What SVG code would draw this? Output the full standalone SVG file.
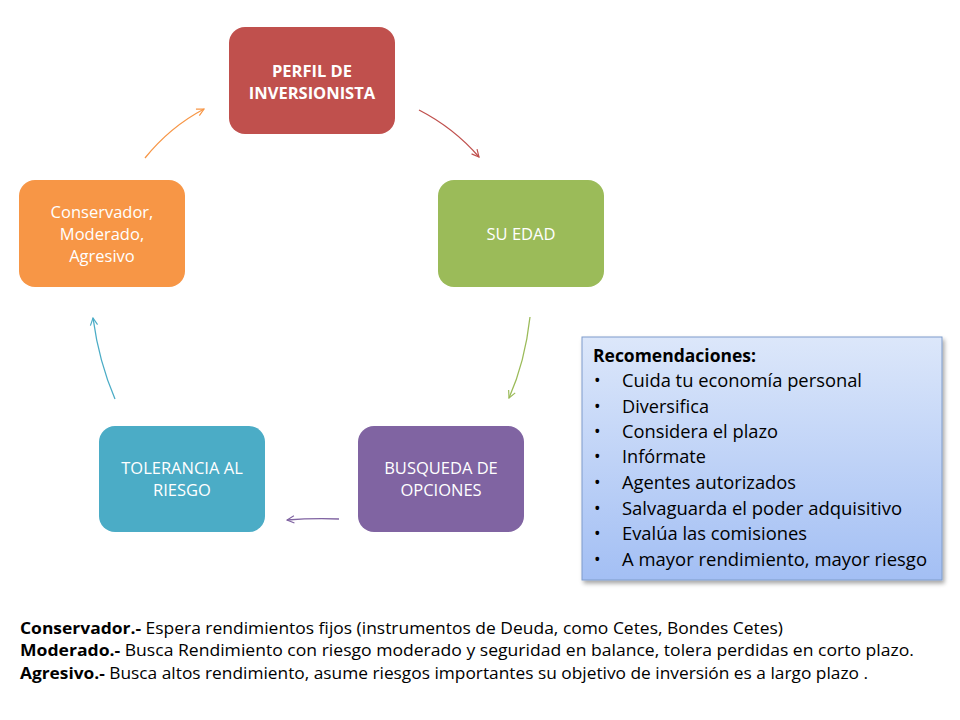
<svg xmlns="http://www.w3.org/2000/svg" width="960" height="720" viewBox="0 0 960 720">
<style>
.node text{font-family:"Open Sans","Liberation Sans",sans-serif;font-size:16.5px;fill:#fff;text-anchor:middle}
.b{font-weight:bold}
.conn path{fill:none;stroke-width:1.3}
.rec{font-family:"Open Sans","Liberation Sans",sans-serif;font-size:17.5px;fill:#000}
.foot{font-family:"Open Sans","Liberation Sans",sans-serif;font-size:15.5px;fill:#000}
</style>
<defs>
<linearGradient id="g" x1="0" y1="0" x2="0" y2="1">
<stop offset="0" stop-color="#DCE7FA"/>
<stop offset="1" stop-color="#A3BFF4"/>
</linearGradient>
<filter id="sh" x="-10%" y="-10%" width="120%" height="120%">
<feDropShadow dx="2" dy="3" stdDeviation="2" flood-color="#000" flood-opacity="0.35"/>
</filter>
<marker id="mo" viewBox="0 0 10 10" refX="9" refY="5" markerWidth="9" markerHeight="9" orient="auto" markerUnits="userSpaceOnUse"><path d="M1,1 L9,5 L1,9" fill="none" stroke="#F79646" stroke-width="1.3"/></marker>
<marker id="mr" viewBox="0 0 10 10" refX="9" refY="5" markerWidth="9" markerHeight="9" orient="auto" markerUnits="userSpaceOnUse"><path d="M1,1 L9,5 L1,9" fill="none" stroke="#C0504D" stroke-width="1.3"/></marker>
<marker id="mg" viewBox="0 0 10 10" refX="9" refY="5" markerWidth="9" markerHeight="9" orient="auto" markerUnits="userSpaceOnUse"><path d="M1,1 L9,5 L1,9" fill="none" stroke="#9BBB59" stroke-width="1.3"/></marker>
<marker id="mp" viewBox="0 0 10 10" refX="9" refY="5" markerWidth="9" markerHeight="9" orient="auto" markerUnits="userSpaceOnUse"><path d="M1,1 L9,5 L1,9" fill="none" stroke="#8064A2" stroke-width="1.3"/></marker>
<marker id="mt" viewBox="0 0 10 10" refX="9" refY="5" markerWidth="9" markerHeight="9" orient="auto" markerUnits="userSpaceOnUse"><path d="M1,1 L9,5 L1,9" fill="none" stroke="#4BACC6" stroke-width="1.3"/></marker>
</defs>
<rect width="960" height="720" fill="#fff"/>
<g class="conn">
<path d="M145,158 Q170,127 204,109" stroke="#F79646" marker-end="url(#mo)"/>
<path d="M419,110 Q454,128 479,157" stroke="#C0504D" marker-end="url(#mr)"/>
<path d="M530,317 Q525,362 509,398" stroke="#9BBB59" marker-end="url(#mg)"/>
<path d="M339,519 Q313,518 287,520" stroke="#8064A2" marker-end="url(#mp)"/>
<path d="M115,399 Q99,362 93,318" stroke="#4BACC6" marker-end="url(#mt)"/>
</g>
<g id="perfil" class="node">
<rect x="229" y="27" width="166" height="107" rx="16" fill="#C0504D"/>
<text class="b" x="312" y="77">PERFIL DE</text>
<text class="b" x="312" y="99">INVERSIONISTA</text>
</g>
<g id="edad" class="node">
<rect x="438" y="180" width="166" height="107" rx="16" fill="#9BBB59"/>
<text x="521" y="240">SU EDAD</text>
</g>
<g id="busqueda" class="node">
<rect x="358" y="426" width="166" height="106" rx="16" fill="#8064A2"/>
<text x="441" y="474">BUSQUEDA DE</text>
<text x="441" y="496">OPCIONES</text>
</g>
<g id="tolerancia" class="node">
<rect x="99" y="426" width="166" height="106" rx="16" fill="#4BACC6"/>
<text x="182" y="474">TOLERANCIA AL</text>
<text x="182" y="496">RIESGO</text>
</g>
<g id="tipos" class="node">
<rect x="19" y="180" width="166" height="107" rx="16" fill="#F79646"/>
<text x="102" y="218">Conservador,</text>
<text x="102" y="240">Moderado,</text>
<text x="102" y="262">Agresivo</text>
</g>
<g id="recomendaciones">
<rect x="582" y="337" width="360" height="243" fill="url(#g)" stroke="#7E9CCB" stroke-width="1" filter="url(#sh)"/>
<text class="rec b" x="593" y="362" textLength="163" lengthAdjust="spacingAndGlyphs">Recomendaciones:</text>
<g class="rec">
<text x="594" y="387">•</text><text x="622" y="387" textLength="240" lengthAdjust="spacingAndGlyphs">Cuida tu economía personal</text>
<text x="594" y="413">•</text><text x="622" y="413" textLength="87" lengthAdjust="spacingAndGlyphs">Diversifica</text>
<text x="594" y="438">•</text><text x="622" y="438" textLength="156" lengthAdjust="spacingAndGlyphs">Considera el plazo</text>
<text x="594" y="463">•</text><text x="622" y="463" textLength="84" lengthAdjust="spacingAndGlyphs">Infórmate</text>
<text x="594" y="489">•</text><text x="622" y="489" textLength="174" lengthAdjust="spacingAndGlyphs">Agentes autorizados</text>
<text x="594" y="515">•</text><text x="622" y="515" textLength="280" lengthAdjust="spacingAndGlyphs">Salvaguarda el poder adquisitivo</text>
<text x="594" y="540">•</text><text x="622" y="540" textLength="185" lengthAdjust="spacingAndGlyphs">Evalúa las comisiones</text>
<text x="594" y="566">•</text><text x="622" y="566" textLength="305" lengthAdjust="spacingAndGlyphs">A mayor rendimiento, mayor riesgo</text>
</g>
</g>
<g id="leyenda" class="foot">
<text x="20" y="634" textLength="763" lengthAdjust="spacingAndGlyphs"><tspan class="b">Conservador.-</tspan> Espera rendimientos fijos  (instrumentos de Deuda, como Cetes, Bondes Cetes)</text>
<text x="20" y="656" textLength="894" lengthAdjust="spacingAndGlyphs"><tspan class="b">Moderado.-</tspan> Busca Rendimiento  con riesgo moderado  y seguridad en balance, tolera perdidas en corto plazo.</text>
<text x="20" y="679" textLength="848" lengthAdjust="spacingAndGlyphs"><tspan class="b">Agresivo.-</tspan>  Busca altos rendimiento, asume riesgos importantes su objetivo de inversión es a largo plazo .</text>
</g>
</svg>
